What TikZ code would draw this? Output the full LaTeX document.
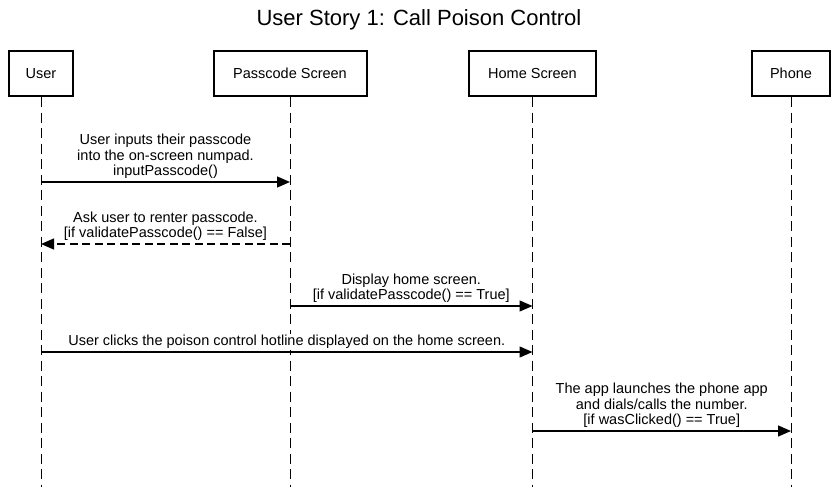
\documentclass[tikz,border=0pt]{standalone}
\usepackage{fontspec}
\setmainfont{Liberation Sans}
\usetikzlibrary{arrows.meta}
\begin{document}
\begin{tikzpicture}[x=1pt,y=-1pt,
  actor/.style={draw=black,line width=2pt,minimum height=45pt,inner sep=0pt,
    font=\fontsize{14.5}{15.5}\selectfont},
  lifeline/.style={draw=black,line width=1pt,dash pattern=on 10pt off 5.5pt},
  msg/.style={draw=black,line width=1.3pt,-{Triangle[length=13pt,width=11pt]}},
  ret/.style={msg,dash pattern=on 8pt off 4.5pt},
  lbl/.style={align=center,fill=white,inner xsep=1pt,inner ysep=1pt,above=1.5pt,
    font=\fontsize{14.5}{15.5}\selectfont}]
\useasboundingbox (0,0) rectangle (837,487);
\fill[white] (0,0) rectangle (837,487);
\node[font=\fontsize{22}{24}\selectfont,anchor=base] (title) at (419,26) {User Story 1: Call Poison Control};
% actors
\node[actor,minimum width=64pt] (user) at (41,73.5) {User};
\node[actor,minimum width=153pt] (pass) at (290,73.5) {Passcode Screen};
\node[actor,minimum width=127pt] (home) at (532.5,73.5) {Home Screen};
\node[actor,minimum width=78pt] (phone) at (791,73.5) {Phone};
% lifeline ends
\coordinate (userE) at (41,487);
\coordinate (passE) at (290,487);
\coordinate (homeE) at (532.5,487);
\coordinate (phoneE) at (791,487);
\draw[lifeline] (user.south) -- (userE);
\draw[lifeline] (pass.south) -- (passE);
\draw[lifeline] (home.south) -- (homeE);
\draw[lifeline] (phone.south) -- (phoneE);
% message points
\coordinate (u1) at (41,182);   \coordinate (p1) at (290,182);
\coordinate (p2) at (290,244);  \coordinate (u2) at (41,244);
\coordinate (p3) at (290,306);  \coordinate (h3) at (532.5,306);
\coordinate (u4) at (41,352);   \coordinate (h4) at (532.5,352);
\coordinate (h5) at (532.5,431);\coordinate (f5) at (791,431);
\draw[msg] (u1) -- node[lbl] (l1) {User inputs their passcode\\into the on-screen numpad.\\inputPasscode()} (p1);
\draw[ret] (p2) -- node[lbl] (l2) {Ask user to renter passcode.\\{[if validatePasscode() == False]}} (u2);
\draw[msg] (p3) -- node[lbl] (l3) {Display home screen.\\{[if validatePasscode() == True]}} (h3);
\draw[msg] (u4) -- node[lbl] (l4) {User clicks the poison control hotline displayed on the home screen.} (h4);
\draw[msg] (h5) -- node[lbl] (l5) {The app launches the phone app\\and dials/calls the number.\\{[if wasClicked() == True]}} (f5);
\end{tikzpicture}
\end{document}
